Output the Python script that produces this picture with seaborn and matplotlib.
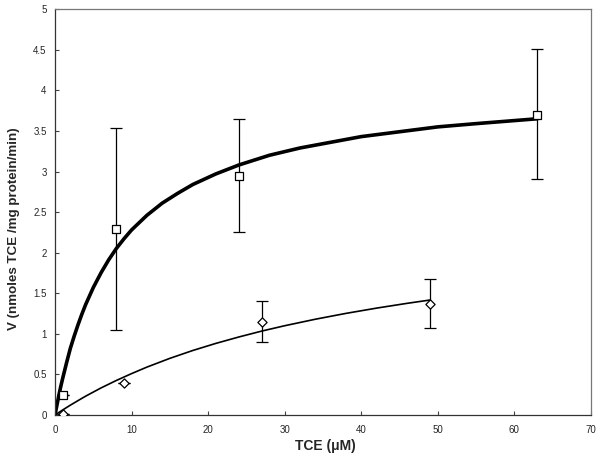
import numpy as np
import pandas as pd
import matplotlib
matplotlib.use("Agg")
import matplotlib.pyplot as plt
import seaborn as sns

sns.set_style("ticks")
plt.rcParams['font.family'] = ['Liberation Sans', 'DejaVu Sans']

# measured points (squares)
sq_x = [1, 8, 24, 63]
sq_y = [0.25, 2.29, 2.95, 3.70]
sq_lo = [0.25, 1.05, 2.25, 2.91]
sq_hi = [0.25, 3.53, 3.65, 4.51]

# measured points (diamonds)
dm_x = [1, 9, 27, 49]
dm_y = [0.01, 0.40, 1.15, 1.37]
dm_lo = [0.01, 0.40, 0.90, 1.07]
dm_hi = [0.01, 0.40, 1.40, 1.68]

# fitted curves
fit1_x = [0, 0.25, 0.5, 0.75, 1, 1.5, 2, 2.5, 3, 3.5, 4, 5, 6, 7, 8, 9, 10, 12, 14, 16, 18,
          21, 24, 28, 32, 36, 40, 45, 50, 55, 63]
fit1_y = [0, 0.12, 0.24, 0.35, 0.45, 0.64, 0.82, 0.97, 1.11, 1.24, 1.36, 1.57, 1.75, 1.91,
          2.05, 2.17, 2.28, 2.46, 2.61, 2.73, 2.84, 2.97, 3.08, 3.20, 3.29, 3.36, 3.43,
          3.49, 3.55, 3.59, 3.65]
fit2_x = [0, 1, 2, 3, 4, 6, 8, 10, 12, 15, 18, 21, 24, 27, 30, 34, 38, 42, 46, 49]
fit2_y = [0, 0.062, 0.121, 0.177, 0.232, 0.333, 0.425, 0.51, 0.59, 0.698, 0.795, 0.882,
          0.961, 1.034, 1.10, 1.18, 1.252, 1.317, 1.376, 1.417]

fig = plt.figure(figsize=(6.07, 4.57), dpi=100)
ax = fig.add_axes([0.0906, 0.0919, 0.883, 0.888])

# curves
sns.lineplot(x=fit1_x, y=fit1_y, ax=ax, color='black', lw=2.6, sort=False, estimator=None)
sns.lineplot(x=fit2_x, y=fit2_y, ax=ax, color='black', lw=1.2, sort=False, estimator=None)

# error bars
sq = pd.DataFrame({'x': sq_x, 'y': sq_y, 'lo': sq_lo, 'hi': sq_hi})
dm = pd.DataFrame({'x': dm_x, 'y': dm_y, 'lo': dm_lo, 'hi': dm_hi})
for d in (sq, dm):
    ax.errorbar(d['x'], d['y'], yerr=[d['y'] - d['lo'], d['hi'] - d['y']],
                fmt='none', ecolor='black', elinewidth=0.9, capsize=4, capthick=0.9, zorder=3)

sns.scatterplot(data=sq, x='x', y='y', ax=ax, marker='s', s=38, facecolor='white',
                edgecolor='black', linewidth=0.9, zorder=5)
sns.scatterplot(data=dm, x='x', y='y', ax=ax, marker='D', s=22, facecolor='white',
                edgecolor='black', linewidth=0.9, zorder=5)

ax.set_xlim(0, 70)
ax.set_ylim(0, 5)
ax.set_xticks(range(0, 71, 10))
ax.set_yticks(np.arange(0, 5.01, 0.5))
ax.set_yticklabels(['0', '0.5', '1', '1.5', '2', '2.5', '3', '3.5', '4', '4.5', '5'])
ax.tick_params(labelsize=7, length=3, width=0.8, color='#444444', direction='in')
ax.tick_params(axis='x', pad=7)
ax.tick_params(axis='y', pad=6)
for s in ax.spines.values():
    s.set_color('#777777')
    s.set_linewidth(0.9)
ax.spines['bottom'].set_color('#333333')
ax.spines['left'].set_color('#333333')

ax.set_xlabel('TCE (\u03bcM)', fontsize=10, fontweight='bold')
ax.set_ylabel('V (nmoles TCE /mg protein/min)', fontsize=9.6, fontweight='bold')
ax.xaxis.set_label_coords(0.505, -0.058)
ax.yaxis.set_label_coords(-0.065, 0.458)

fig.savefig('out.png', dpi=100)
